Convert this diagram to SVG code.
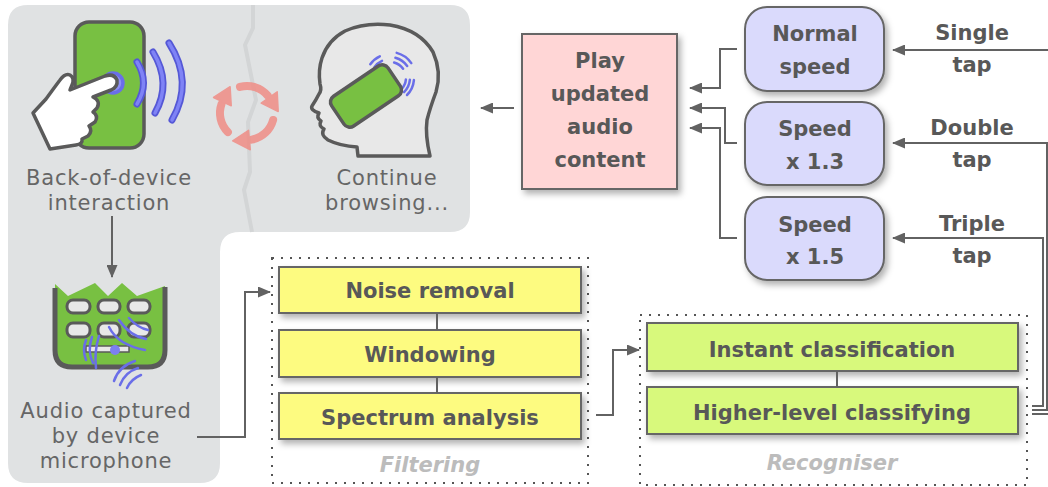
<svg xmlns="http://www.w3.org/2000/svg" width="1048" height="487" viewBox="0 0 1048 487">
  <defs>
    <style>
      .lbl { font-family: "DejaVu Sans", Verdana, sans-serif; font-size: 21px; letter-spacing: 0.8px; fill: #666; text-anchor: middle; }
      .bt { font-family: "DejaVu Sans", Verdana, sans-serif; font-size: 21px; font-weight: bold; fill: #585858; text-anchor: middle; }
      .cap { font-family: "DejaVu Sans", Verdana, sans-serif; font-size: 21px; font-weight: bold; font-style: italic; fill: #bcbcbc; text-anchor: middle; }
      .box { stroke: #666; stroke-width: 2; filter: url(#shadow); }
      .yel { fill: #fdfb80; }
      .grn { fill: #d8f97c; }
      .lav { fill: #dadafc; }
      .pnk { fill: #ffd6d6; }
      .grp { fill: none; stroke: #555; stroke-width: 2; stroke-dasharray: 2 7; }
      .ln { fill: none; stroke: #626262; stroke-width: 2; }
      .arr { marker-end: url(#ah); }
      .ico { stroke: #5a5a5a; stroke-width: 3.5; stroke-linejoin: round; stroke-linecap: round; }
      .wave { fill: none; stroke: #5558d6; stroke-width: 7; stroke-linecap: round; }
      .wave2 { fill: none; stroke: #7f83f6; stroke-width: 3.5; stroke-linecap: round; }
      .thin { fill: none; stroke: #6a6ee8; stroke-width: 2.5; stroke-linecap: round; }
      .kbd { fill: #e8e8e8; stroke: #5a5a5a; stroke-width: 3; }
      .rot { fill: none; stroke: #f08a82; stroke-width: 8; stroke-linecap: round; }
    </style>
    <filter id="shadow" x="-10%" y="-10%" width="130%" height="150%">
      <feDropShadow dx="3" dy="4" stdDeviation="3" flood-color="#000" flood-opacity="0.3"/>
    </filter>
    <marker id="ah" markerWidth="13" markerHeight="11" refX="12" refY="5.5" orient="auto" markerUnits="userSpaceOnUse">
      <path d="M0,0 L13,5.5 L0,11 Z" fill="#626262"/>
    </marker>
    <g id="rotArrow" opacity="0.82">
      <path class="rot" d="M240,86.9 A27,27 0 0 1 267.7,95.6"/>
      <polygon points="277.2,91.8 261.2,103 278.2,111.5" fill="#f08a82" stroke="#f08a82" stroke-width="1.5" stroke-linejoin="round"/>
    </g>
  </defs>

  <!-- shaded background panel -->
  <path d="M28,5 H450 Q470,5 470,25 V212 Q470,232 450,232 H240 Q220,232 220,252 V463 Q220,483 200,483 H28 Q8,483 8,463 V25 Q8,5 28,5 Z" fill="#e0e2e3"/>
  <polyline points="253,5 253,28 245,45 256,100 248,122 250,172 244,190 252,232" fill="none" stroke="#d3d5d6" stroke-width="4"/>

  <!-- back-of-device interaction -->
  <g id="back-of-device">
    <rect x="75" y="22" width="69" height="126" rx="14" fill="#78c042" class="ico"/>
    <path class="wave" d="M137,62 Q150,83 137,104"/>
    <path class="wave2" d="M137,62 Q150,83 137,104"/>
    <path class="wave" d="M153,52 Q172,83 155,113"/>
    <path class="wave2" d="M153,52 Q172,83 155,113"/>
    <path class="wave" d="M169,43 Q194,82 172,120"/>
    <path class="wave2" d="M169,43 Q194,82 172,120"/>
    <circle cx="113" cy="83" r="10" fill="#8e91f4" stroke="#6a6ee8" stroke-width="3.5"/>
    <path class="ico" fill="#fff" d="M33,113 L46,99 Q54,88 60,80 Q65,73 70,75 Q75,78 72,85 L70,90 L105,76 Q114,73 117,80 Q118,87 111,90 L93,97 Q101,101 97,108 L93,112 Q99,116 95,122 L89,126 Q93,131 88,136 L82,139 Q83,144 76,145 L50,149 Z"/>
    <text class="lbl" x="109" y="185">Back-of-device</text>
    <text class="lbl" x="109" y="209.5">interaction</text>
  </g>

  <!-- rotation symbol -->
  <g id="cycle">
    <use href="#rotArrow"/>
    <use href="#rotArrow" transform="rotate(120 247 113)"/>
    <use href="#rotArrow" transform="rotate(240 247 113)"/>
  </g>

  <!-- continue browsing -->
  <g id="continue-browsing">
    <path class="ico" fill="#e8e8e8" d="M430,156 L358,156 L357,147 Q340,146 328,140 Q320,135 324,129 Q318,126 321,121 Q316,118 319,113 Q310,110 312,106 Q316,100 319,94 Q322,90 320,84 Q318,70 322,58 Q328,40 345,31 Q365,22 390,25 Q420,30 433,52 Q442,72 436,92 Q430,108 427,120 Q425,135 430,156 Z"/>
    <path class="thin" d="M378.5,70 A14,14 0 0 1 384.1,65.3 M374.4,67.1 A19,19 0 0 1 382,60.8 M370.3,64.2 A24,24 0 0 1 379.8,56.3"/>
    <path class="thin" d="M394.1,62.5 A16,16 0 0 1 403.1,68.8 M395.4,57.7 A21,21 0 0 1 407.2,66 M396.7,52.9 A26,26 0 0 1 411.3,63.1"/>
    <path class="thin" d="M405.9,79.4 A16,16 0 0 1 401.3,89.3 M409.9,79.7 A20,20 0 0 1 404.1,92.1 M413.9,80.1 A24,24 0 0 1 407,95"/>
    <rect x="332" y="78" width="68" height="36" rx="7" fill="#78c042" class="ico" transform="rotate(-34 366 96)"/>
    <text class="lbl" x="387" y="185">Continue</text>
    <text class="lbl" x="387" y="209.5">browsing...</text>
  </g>

  <!-- audio captured -->
  <g id="audio-captured">
    <path fill="#78c042" d="M55,284 L68,296 L95,283 L108,296 L122,283 L137,296 L165,286 V350 Q165,366 149,366 H71 Q55,366 55,350 Z"/>
    <path fill="none" stroke="#5a5a5a" stroke-width="5" d="M55,288 V350 Q55,367 72,367 H148 Q165,367 165,350 V287"/>
    <rect class="kbd" x="67" y="300" width="23" height="13" rx="6"/>
    <rect class="kbd" x="98" y="300" width="22" height="13" rx="6"/>
    <rect class="kbd" x="128" y="300" width="22" height="13" rx="6"/>
    <rect class="kbd" x="67" y="323" width="23" height="14" rx="6"/>
    <rect class="kbd" x="98" y="323" width="22" height="14" rx="6"/>
    <rect class="kbd" x="128" y="323" width="22" height="14" rx="6"/>
    <rect x="86" y="346" width="43" height="6" fill="#e8e8e8" stroke="#5a5a5a" stroke-width="1.5"/>
    <circle cx="115" cy="350" r="5" fill="#7c80f0"/>
    <path class="thin" stroke-width="3" d="M109,327 Q118,345 145,350 M119,320 Q130,336 146,339 M129,318 Q138,328 148,330"/>
    <path class="thin" stroke-width="3" d="M86,340 Q82,350 86,360 M92,337 Q87,351 93,363 M99,336 Q94,352 96,368"/>
    <path class="thin" stroke-width="3" d="M114,381 Q119,366 135,361 M120,385 Q125,372 138,368 M127,388 Q131,379 141,375"/>
    <text class="lbl" x="106" y="418">Audio captured</text>
    <text class="lbl" x="106" y="443">by device</text>
    <text class="lbl" x="106" y="468">microphone</text>
  </g>

  <!-- filtering stage -->
  <g id="filtering">
    <rect class="grp" x="272" y="258" width="316" height="225"/>
    <rect class="box yel" x="279" y="267" width="302" height="46"/>
    <rect class="box yel" x="279" y="330" width="302" height="47"/>
    <rect class="box yel" x="279" y="393" width="302" height="46"/>
    <text class="bt" x="430" y="298">Noise removal</text>
    <text class="bt" x="430" y="362">Windowing</text>
    <text class="bt" x="430" y="425">Spectrum analysis</text>
    <text class="cap" x="430" y="472">Filtering</text>
  </g>

  <!-- recogniser stage -->
  <g id="recogniser">
    <rect class="grp" x="640" y="315" width="387" height="170"/>
    <rect class="box grn" x="647" y="323" width="371" height="48"/>
    <rect class="box grn" x="647" y="387" width="371" height="47"/>
    <text class="bt" x="832" y="357">Instant classification</text>
    <text class="bt" x="832" y="420">Higher-level classifying</text>
    <text class="cap" x="832" y="470">Recogniser</text>
  </g>

  <!-- playback -->
  <g id="play">
    <rect class="box pnk" x="522" y="34" width="155" height="155"/>
    <text class="bt" x="600" y="68">Play</text>
    <text class="bt" x="600" y="101">updated</text>
    <text class="bt" x="600" y="134">audio</text>
    <text class="bt" x="600" y="167">content</text>
  </g>

  <!-- speed settings -->
  <g id="speed-normal">
    <rect class="box lav" x="745" y="7" width="139" height="84" rx="22"/>
    <text class="bt" x="815" y="41">Normal</text>
    <text class="bt" x="815" y="74">speed</text>
  </g>
  <g id="speed-13">
    <rect class="box lav" x="745" y="102" width="139" height="83" rx="22"/>
    <text class="bt" x="815" y="136">Speed</text>
    <text class="bt" x="815" y="169">x 1.3</text>
  </g>
  <g id="speed-15">
    <rect class="box lav" x="745" y="197" width="139" height="83" rx="22"/>
    <text class="bt" x="815" y="232">Speed</text>
    <text class="bt" x="815" y="264">x 1.5</text>
  </g>

  <!-- tap labels -->
  <g id="tap-labels">
    <text class="bt" x="972" y="40">Single</text>
    <text class="bt" x="972" y="72">tap</text>
    <text class="bt" x="972" y="135">Double</text>
    <text class="bt" x="972" y="167">tap</text>
    <text class="bt" x="972" y="231">Triple</text>
    <text class="bt" x="972" y="263">tap</text>
  </g>

  <!-- connectors -->
  <g id="connectors">
    <path class="ln arr" d="M112,216 V277"/>
    <path class="ln arr" d="M197,437 H245 V292 H270"/>
    <path class="ln" d="M437,313 V330 M437,377 V393"/>
    <path class="ln arr" d="M596,415 H613 V350 H639"/>
    <path class="ln" d="M837,371 V387"/>
    <path class="ln arr" d="M1032,406 H1043 V238 H893"/>
    <path class="ln arr" d="M1032,410 H1047 V143 H893"/>
    <path class="ln arr" d="M1032,414 H1052 V50 H893"/>
    <path class="ln arr" d="M737,49 H720 V88 H690"/>
    <path class="ln arr" d="M737,143 H725 V108 H690"/>
    <path class="ln arr" d="M737,238 H720 V128 H690"/>
    <path class="ln arr" d="M514,108 H481"/>
  </g>
</svg>
